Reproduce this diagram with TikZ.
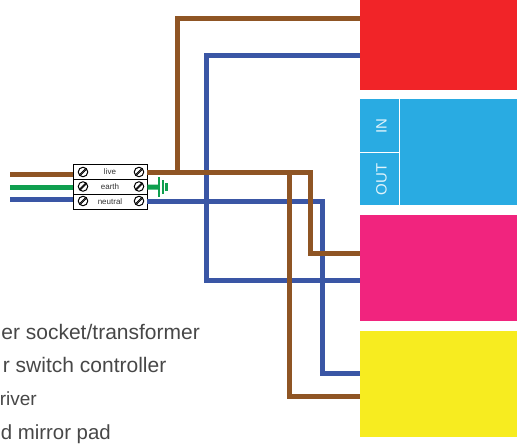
\documentclass[tikz,border=0pt]{standalone}
\usepackage{fontspec}
\setmainfont{Liberation Sans}
\usetikzlibrary{positioning}
\definecolor{wbrown}{RGB}{143,85,36}
\definecolor{wblue}{RGB}{58,86,165}
\definecolor{wgreen}{RGB}{15,159,79}
\definecolor{pred}{RGB}{241,36,40}
\definecolor{pblue}{RGB}{41,171,226}
\definecolor{ppink}{RGB}{241,36,126}
\definecolor{pyellow}{RGB}{247,236,32}
\definecolor{ltext}{RGB}{51,51,51}
\tikzstyle{panel} = [rectangle, minimum width=157pt, inner sep=0pt, anchor=north west]
\tikzstyle{terminal} = [rectangle, minimum width=74pt, minimum height=15pt, inner sep=0pt, draw=black, fill=white, line width=0.8pt, text=ltext, font=\fontsize{8}{8}\selectfont]
\tikzstyle{screw} = [circle, minimum size=9.5pt, inner sep=0pt, draw=black, fill=white, line width=1pt, path picture={\draw[line width=0.9pt] ([shift={(-1.6pt,-2.4pt)}]path picture bounding box.south west) -- ([shift={(2.4pt,1.6pt)}]path picture bounding box.north east); \draw[line width=0.9pt] ([shift={(-2.4pt,-1.6pt)}]path picture bounding box.south west) -- ([shift={(1.6pt,2.4pt)}]path picture bounding box.north east);}]
\tikzstyle{wire} = [line width=5pt, line join=miter]
\tikzstyle{legend} = [anchor=base east, inner sep=0pt, text=ltext!90!white, font=\fontsize{21}{21}\selectfont]
\tikzstyle{port} = [rotate=90, inner sep=0pt, text=white!85!pblue, font=\fontsize{15}{15}\selectfont]
\begin{document}
\begin{tikzpicture}[x=1pt, y=-1pt]
\useasboundingbox (0,0) rectangle (517,444);

% Panels
\node (redpanel) [panel, fill=pred, minimum height=90pt] at (360,0) {};
\node (bluepanel) [panel, fill=pblue, minimum height=106pt] at (360,99) {};
\node (pinkpanel) [panel, fill=ppink, minimum height=106pt] at (360,215) {};
\node (yellowpanel) [panel, fill=pyellow, minimum height=106pt] at (360,331) {};

% Port labels
\draw[white, line width=1pt] (399.5,99) -- (399.5,205);
\draw[white, line width=1pt] (360,152) -- (399.5,152);
\node (portin) [port] at (381.5,126) {IN};
\node (portout) [port] at (381.5,179.5) {OUT};

% Terminal block
\node (live) [terminal] at (110,172) {live};
\node (earth) [terminal, below=-0.8pt of live] {earth};
\node (neutral) [terminal, below=-0.8pt of earth] {neutral};

% Free ends
\coordinate (livein) at (10,174);
\coordinate (earthin) at (10,187);
\coordinate (neutralin) at (10,199);
\coordinate (earthend) at (159,187);

% Blue wires
\draw[wire, wblue] (neutralin) -- (neutralin -| neutral.west);
\draw[wire, wblue] (neutral.east |- 0,201) -- (322,201) -- (322,373.7) -- (yellowpanel.west |- 0,373.7);
\draw[wire, wblue] (redpanel.west |- 0,55.7) -- (206,55.7) -- (206,280) -- (pinkpanel.west |- 0,280);

% Brown wires
\draw[wire, wbrown] (livein) -- (livein -| live.west);
\draw[wire, wbrown] (live.east) -- (310,172) -- (310,253) -- (pinkpanel.west |- 0,253);
\draw[wire, wbrown] (177.7,172) -- (177.7,19) -- (redpanel.west |- 0,19);
\draw[wire, wbrown] (289.7,172) -- (289.7,396.7) -- (yellowpanel.west |- 0,396.7);

% Earth
\draw[wire, wgreen] (earthin) -- (earthin -| earth.west);
\draw[wire, wgreen] (earth.east) -- (earthend);
\draw[wgreen, line width=2.2pt] (159,177) -- (159,197);
\draw[wgreen, line width=2.2pt] (163,180) -- (163,194);
\draw[wgreen, line width=2.2pt] (166.5,183) -- (166.5,191);

% Screws
\foreach \row/\ypos in {live/172,earth/186.5,neutral/201} {
  \node (\row left) [screw] at (83,\ypos) {};
  \node (\row right) [screw] at (139,\ypos) {};
}

% Legend
\node (legenda) [legend] at (200,339) {er socket/transformer};
\node (legendb) [legend] at (166.5,372.5) {r switch controller};
\node (legendc) [legend, font=\fontsize{19}{19}\selectfont] at (37,405.5) {river};
\node (legendd) [legend, font=\fontsize{20.4}{20.4}\selectfont] at (111,439) {d mirror pad};
\end{tikzpicture}
\end{document}
